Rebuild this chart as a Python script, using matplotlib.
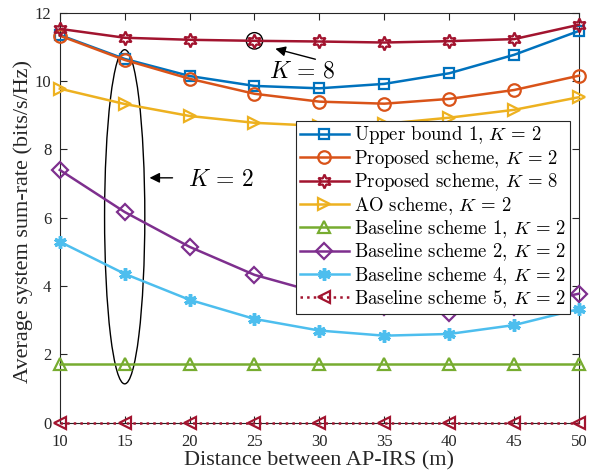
import matplotlib
matplotlib.use("Agg")
import matplotlib.pyplot as plt
from matplotlib.patches import Ellipse

plt.rcParams['font.family'] = ['Liberation Serif', 'DejaVu Serif']
plt.rcParams['mathtext.fontset'] = 'cm'

distance = [10, 15, 20, 25, 30, 35, 40, 45, 50]
upper_bound_k2 = [11.35, 10.65, 10.15, 9.86, 9.79, 9.92, 10.23, 10.77, 11.47]
proposed_k2 = [11.33, 10.62, 10.07, 9.63, 9.40, 9.34, 9.48, 9.74, 10.16]
proposed_k8 = [11.53, 11.27, 11.21, 11.18, 11.16, 11.13, 11.17, 11.23, 11.65]
ao_k2 = [9.78, 9.33, 8.98, 8.78, 8.69, 8.75, 8.93, 9.16, 9.53]
baseline1_k2 = [1.72, 1.72, 1.72, 1.72, 1.72, 1.72, 1.72, 1.72, 1.72]
baseline2_k2 = [7.40, 6.17, 5.15, 4.33, 3.80, 3.38, 3.22, 3.38, 3.78]
baseline4_k2 = [5.30, 4.36, 3.60, 3.04, 2.70, 2.55, 2.60, 2.86, 3.33]
baseline5_k2 = [0, 0, 0, 0, 0, 0, 0, 0, 0]

labels = [r"Upper bound 1, $K\,=\,2$", r"Proposed scheme, $K\,=\,2$", r"Proposed scheme, $K\,=\,8$",
          r"AO scheme, $K\,=\,2$", r"Baseline scheme 1, $K\,=\,2$", r"Baseline scheme 2, $K\,=\,2$",
          r"Baseline scheme 4, $K\,=\,2$", r"Baseline scheme 5, $K\,=\,2$"]

fig = plt.figure(figsize=(5.92, 4.74), dpi=100)
ax = fig.add_axes([0.101, 0.108, 0.877, 0.865])

lw = 1.8
mew = 1.6
common = dict(mfc='none', lw=lw, clip_on=False, zorder=3)
ax.plot(distance, upper_bound_k2, '-', color='#0072BD', marker='s', ms=7, mew=mew, label=labels[0], **common)
ax.plot(distance, proposed_k2, '-', color='#D95319', marker='o', ms=9, mew=mew, label=labels[1], **common)
ax.plot(distance, proposed_k8, '-', color='#A2142F', marker=(6, 1, 0), ms=10, mew=mew, label=labels[2], **common)
ax.plot(distance, ao_k2, '-', color='#EDB120', marker='>', ms=9, mew=mew, label=labels[3], **common)
ax.plot(distance, baseline1_k2, '-', color='#77AC30', marker='^', ms=9, mew=mew, label=labels[4], **common)
ax.plot(distance, baseline2_k2, '-', color='#7E2F8E', marker='D', ms=8, mew=mew, label=labels[5], **common)
ax.plot(distance, baseline4_k2, '-', color='#4DBEEE', marker=(6, 2, 0), ms=9, mew=2.5, label=labels[6], **common)
ax.plot(distance, baseline5_k2, ':', color='#A2142F', marker='<', ms=9, mew=mew, label=labels[7], **common)

ax.set_xlim(10, 50)
ax.set_ylim(0, 12)
ax.set_xticks(range(10, 51, 5))
ax.set_yticks(range(0, 13, 2))
ax.tick_params(direction='in', top=True, right=True, labelsize=12, colors='#262626', length=5)
ax.tick_params(axis='x', pad=8)
ax.tick_params(axis='y', pad=6)
for s in ax.spines.values():
    s.set_color('#262626')
    s.set_linewidth(0.8)
ax.set_xlabel("Distance between AP-IRS (m)", fontsize=16, color='#262626', labelpad=1)
ax.set_ylabel("Average system sum-rate (bits/s/Hz)", fontsize=16, color='#262626')
ax.yaxis.set_label_coords(-0.052, 0.49)

# annotations
ax.add_patch(Ellipse((15.0, 6.03), 3.1, 9.78, fill=False, color='black', lw=1.0))
ax.annotate("", xy=(16.7, 7.17), xytext=(18.9, 7.17),
            arrowprops=dict(arrowstyle='-|>', color='black', lw=1.0, mutation_scale=15))
ax.text(19.9, 7.1, r"$K\,=\,2$", fontsize=17, va='center', ha='left')

ax.add_patch(Ellipse((25.0, 11.18), 1.25, 0.48, fill=False, color='black', lw=1.0))
ax.annotate("", xy=(26.4, 10.97), xytext=(29.9, 10.62),
            arrowprops=dict(arrowstyle='-|>', color='black', lw=1.0, mutation_scale=15))
ax.text(26.1, 10.27, r"$K\,=\,8$", fontsize=17, va='center', ha='left')

leg = ax.legend(loc='upper left', bbox_to_anchor=(0.455, 0.737),
                prop={'family': 'cmr10', 'size': 13.5}, frameon=True, fancybox=False,
                edgecolor='#262626', framealpha=1, borderpad=0.2, labelspacing=0.08,
                handlelength=2.6, handletextpad=0.3, borderaxespad=0)
leg.get_frame().set_linewidth(0.8)
leg.set_zorder(5)

fig.savefig("out.png", dpi=100)
